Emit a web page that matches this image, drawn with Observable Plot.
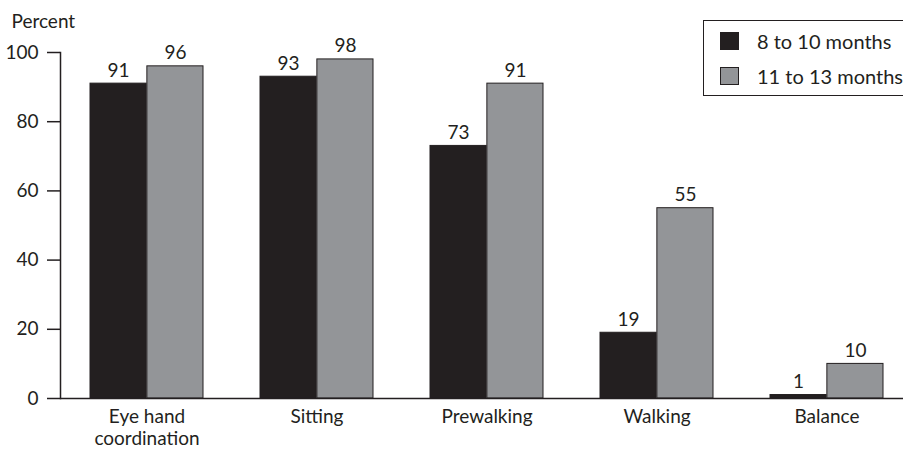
<!DOCTYPE html>
<html>
<head>
<meta charset="utf-8">
<script src="https://cdn.jsdelivr.net/npm/d3@7"></script>
<script src="https://cdn.jsdelivr.net/npm/@observablehq/plot@0.6"></script>
<style>
  html, body { margin: 0; padding: 0; background: #fff; }
  #wrap { position: relative; width: 903px; height: 451px; overflow: hidden; font-family: Lato, "Open Sans", sans-serif; color: #231f20; }
  #legend { position: absolute; left: 703px; top: 20px; width: 220px; height: 76px; border: 1.5px solid #231f20; box-sizing: border-box; }
  #legend .item { position: absolute; left: 16px; display: flex; align-items: center; font-size: 20px; line-height: 20px; }
  #legend .sw { width: 19px; height: 18px; border: 1px solid #231f20; box-sizing: border-box; margin-right: 18px; }
</style>
</head>
<body>
<div id="wrap"></div>
<script>
// Share of infants reaching each motor milestone, by age group
const categories = ["Eye hand\ncoordination", "Sitting", "Prewalking", "Walking", "Balance"];
const seriesNames = ["8 to 10 months", "11 to 13 months"];
const young = [91, 93, 73, 19, 1];
const older = [96, 98, 91, 55, 10];
const yTicks = [0, 20, 40, 60, 80, 100];
const colors = ["#231f20", "#939598"];

const rows = categories.flatMap((c, i) => [
  {category: c, series: seriesNames[0], value: young[i]},
  {category: c, series: seriesNames[1], value: older[i]}
]);
const youngRows = rows.filter(d => d.series === seriesNames[0]);
const olderRows = rows.filter(d => d.series === seriesNames[1]);

// Band layout: each category gets a group of two adjacent bars
const x0 = 60, x1 = 913;
const step = (x1 - x0) / categories.length;
const half = step / 3; // width of one bar

const ink = "#231f20";

const chart = Plot.plot({
  width: 903,
  height: 451,
  marginTop: 52,
  marginBottom: 53,
  marginLeft: 60,
  marginRight: 0,
  style: {fontFamily: "Lato, 'Open Sans', sans-serif", fontSize: "19px", color: ink, background: "#fff"},
  x: {domain: categories, range: [x0, x1], paddingInner: 1/3, paddingOuter: 1/6, label: null},
  y: {domain: [0, 100], label: null},
  marks: [
    Plot.barY(youngRows, {x: "category", y: "value", fill: colors[0], stroke: ink, strokeWidth: 1, insetRight: half}),
    Plot.barY(olderRows, {x: "category", y: "value", fill: colors[1], stroke: ink, strokeWidth: 1, insetLeft: half}),
    Plot.text(youngRows, {x: "category", y: "value", text: d => String(d.value), dx: -half / 2, dy: -7, lineAnchor: "bottom", fill: ink, fontSize: 19}),
    Plot.text(olderRows, {x: "category", y: "value", text: d => String(d.value), dx: half / 2, dy: -7, lineAnchor: "bottom", fill: ink, fontSize: 19}),
    Plot.axisY({ticks: yTicks, tickSize: 13, tickPadding: 9, label: null, stroke: ink, strokeWidth: 1.5, fontSize: 19}),
    Plot.axisX({tickSize: 0, tickPadding: 8, label: null, lineHeight: 1.2, fontSize: 19}),
    Plot.frame({anchor: "left", stroke: ink, strokeWidth: 1.5}),
    Plot.ruleY([0], {stroke: ink, strokeWidth: 1.5}),
    Plot.text(["Percent"], {frameAnchor: "top-left", dx: -49, dy: -25, textAnchor: "start", lineAnchor: "bottom", fill: ink, fontSize: 19})
  ]
});

const wrap = document.getElementById("wrap");
wrap.appendChild(chart);

// Legend box in the upper right corner
const legend = document.createElement("div");
legend.id = "legend";
seriesNames.forEach((name, i) => {
  const item = document.createElement("div");
  item.className = "item";
  item.style.top = (i === 0 ? 10 : 45) + "px";
  const sw = document.createElement("span");
  sw.className = "sw";
  sw.style.background = colors[i];
  const label = document.createElement("span");
  label.textContent = name;
  item.appendChild(sw);
  item.appendChild(label);
  legend.appendChild(item);
});
wrap.appendChild(legend);
</script>
</body>
</html>
